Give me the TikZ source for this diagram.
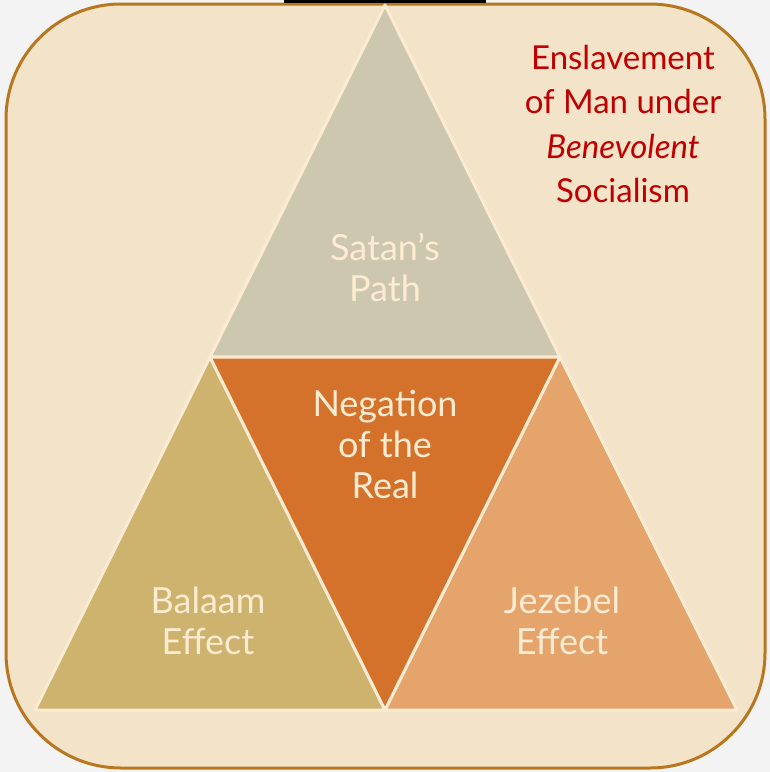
\documentclass[tikz,border=0pt]{standalone}
\usepackage{fontspec}
\setmainfont{Lato}

\definecolor{pagegray}{HTML}{F3F3F3}
\definecolor{panelfill}{HTML}{F2E3C9}
\definecolor{panelrim}{HTML}{B8771E}
\definecolor{triedge}{HTML}{FCEBD3}
\definecolor{satanfill}{HTML}{CDC7AF}
\definecolor{negfill}{HTML}{D4722C}
\definecolor{balaamfill}{HTML}{CDB36E}
\definecolor{jezebelfill}{HTML}{E4A46C}
\definecolor{labelcream}{HTML}{FDEBD2}
\definecolor{titlered}{HTML}{C00000}

\begin{document}
\begin{tikzpicture}[x=1pt, y=-1pt,
	tri/.style = {draw=triedge, line width=3pt, line join=round},
	lbl/.style = {text=labelcream, align=center, font=\fontsize{36}{41}\selectfont},
	title/.style = {text=titlered, align=center, font=\fontsize{33}{44.5}\selectfont}]
	\useasboundingbox[fill=pagegray] (0,0) rectangle (770,772);

	% rounded panel
	\draw[fill=panelfill, draw=panelrim, line width=3pt, rounded corners=115pt]
		(6,4) rectangle (765,768);
	\draw[black, line width=3pt] (284,1) -- (486,1);

	% corners of the triangles
	\coordinate (apex) at (385,5);
	\coordinate (ml) at (210,357);
	\coordinate (mr) at (560,357);
	\coordinate (bl) at (35,710);
	\coordinate (bm) at (385,710);
	\coordinate (br) at (737,710);

	\filldraw[tri, fill=satanfill] (apex) -- (mr) -- (ml) -- cycle;
	\filldraw[tri, fill=balaamfill] (ml) -- (bm) -- (bl) -- cycle;
	\filldraw[tri, fill=jezebelfill] (mr) -- (br) -- (bm) -- cycle;
	\filldraw[tri, fill=negfill] (ml) -- (mr) -- (bm) -- cycle;

	\node[lbl] (satan) at (385,267) {Satan’s\\Path};
	\node[lbl] (negation) at (385,444) {Negation\\of the\\Real};
	\node[lbl] (balaam) at (208,621) {Balaam\\Effect};
	\node[lbl] (jezebel) at (562,621) {Jezebel\\Effect};

	\node[title] (enslave) at (623,124)
		{Enslavement\\of Man under\\\textit{Benevolent}\\Socialism};
\end{tikzpicture}
\end{document}
